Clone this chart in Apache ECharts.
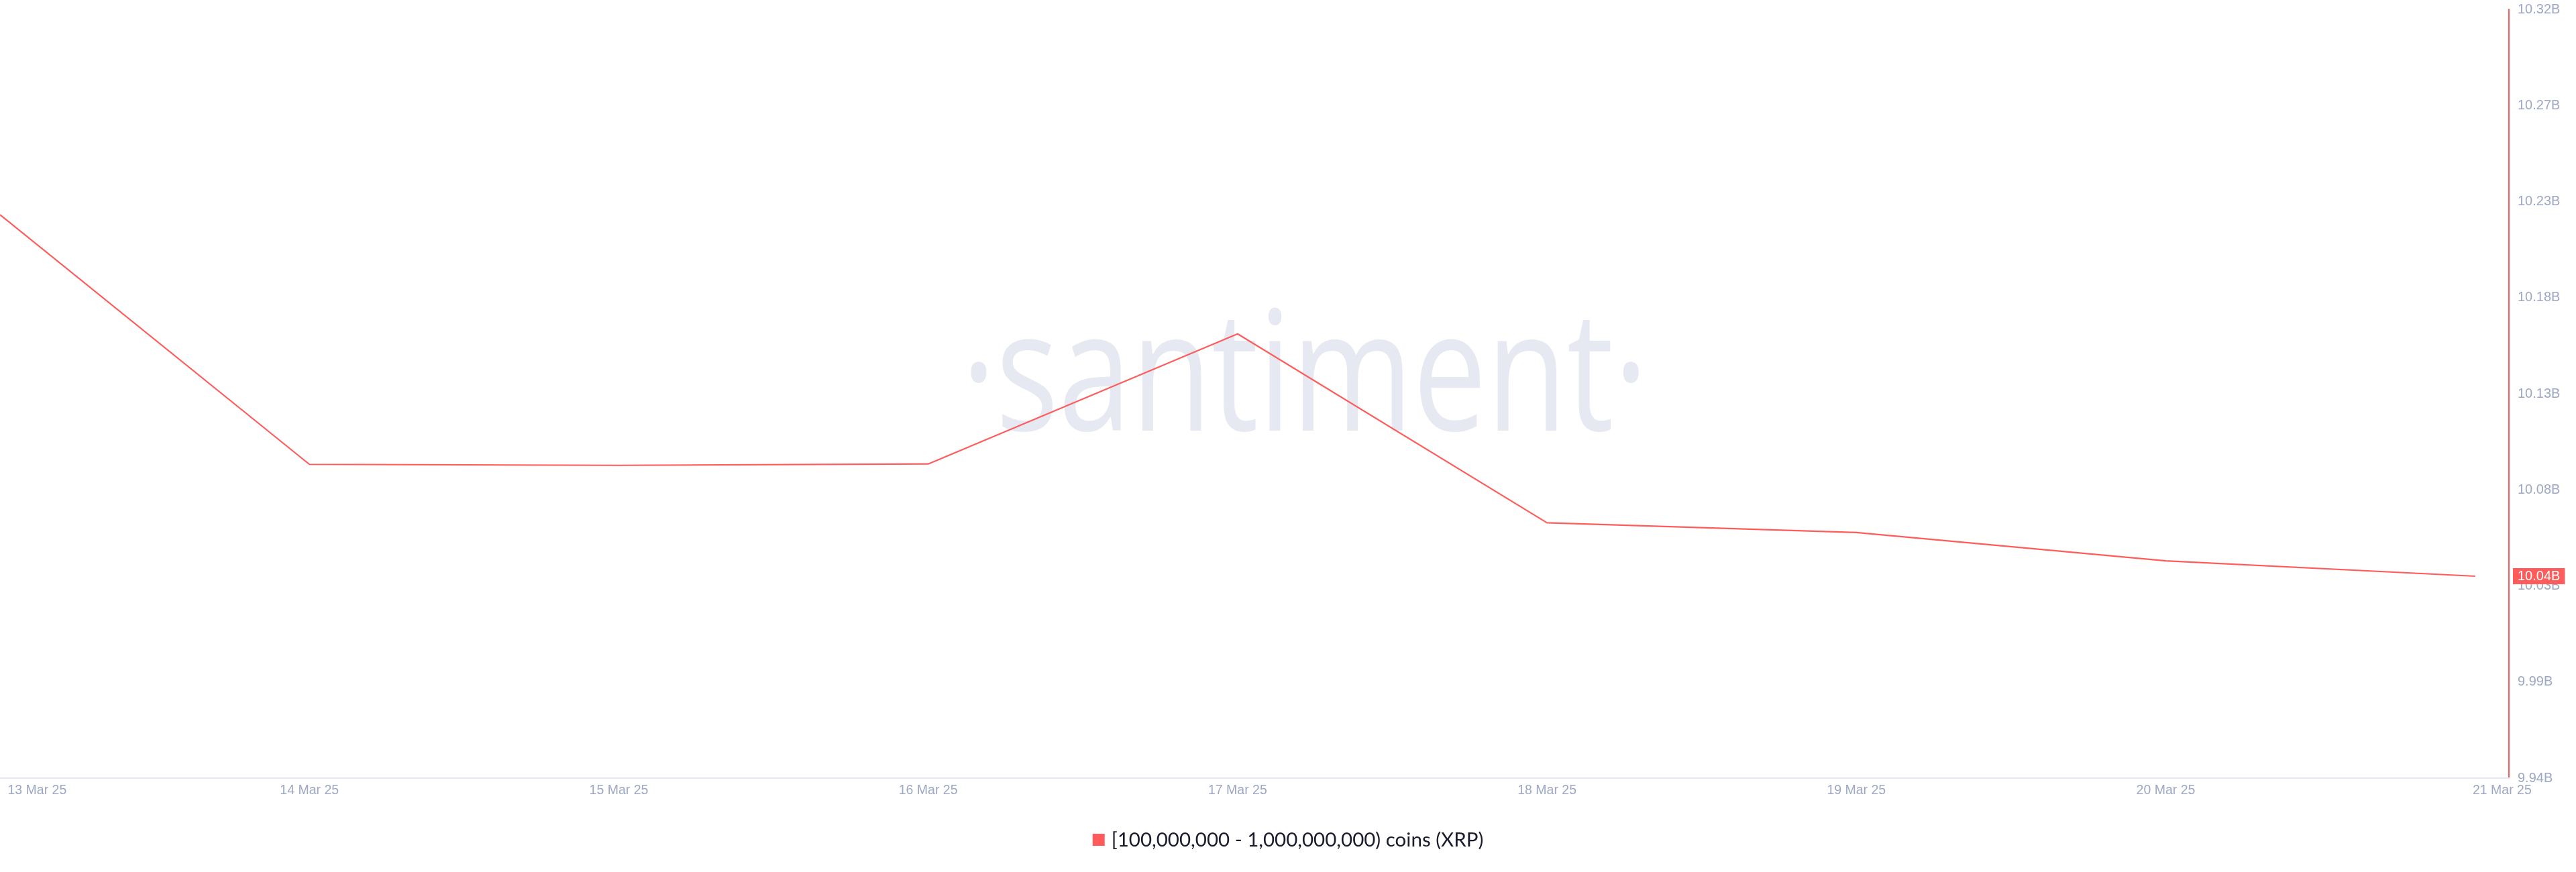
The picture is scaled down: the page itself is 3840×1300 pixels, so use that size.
<!DOCTYPE html>
<html>
<head>
<meta charset="utf-8">
<script src="https://cdn.jsdelivr.net/npm/echarts@6/dist/echarts.min.js"></script>
<style>
html,body{margin:0;padding:0;background:#fff;}
#chart{width:3840px;height:1300px;}
</style>
</head>
<body>
<div id="chart"></div>
<script>
// ---- data ----
const dates = ['13 Mar 25','14 Mar 25','15 Mar 25','16 Mar 25','17 Mar 25','18 Mar 25','19 Mar 25','20 Mar 25','21 Mar 25'];
const holdings = [10.2185, 10.0951, 10.0946, 10.0953, 10.1596, 10.0662, 10.0614, 10.0474, 10.0398]; // billions XRP
const seriesName = '[100,000,000 - 1,000,000,000) coins (XRP)';
const yTickValues = [9.94, 9.9875, 10.035, 10.0825, 10.13, 10.1775, 10.225, 10.2725, 10.32];
const yTickLabels = ['9.94B','9.99B','10.03B','10.08B','10.13B','10.18B','10.23B','10.27B','10.32B'];
const xLabelPositions = [0.12, 1, 2, 3, 4, 5, 6, 7, 8.087];

const RED = '#ff5b5b';
const GREY = '#9ea8c4';

const chart = echarts.init(document.getElementById('chart'));
const lastVal = holdings[holdings.length - 1];

chart.setOption({
  animation: false,
  backgroundColor: '#ffffff',
  grid: { left: 0, right: 100, top: 14, bottom: 140, containLabel: false },
  graphic: [{
    type: 'text',
    silent: true,
    z: -10,
    x: 1945, y: 447,
    scaleX: 0.785,
    style: {
      text: '·santiment·',
      font: '249px "Open Sans"',
      fill: '#e6e9f2',
      textAlign: 'center',
      verticalAlign: 'top'
    }
  }],
  legend: {
    left: 'center',
    top: 1232,
    icon: 'rect',
    itemWidth: 18,
    itemHeight: 18,
    itemGap: 10,
    textStyle: { color: '#1a1c2e', fontSize: 29.5, fontFamily: 'Lato', padding: [0, 0, 0, 5] },
    data: [seriesName]
  },
  xAxis: {
    type: 'value',
    min: 0,
    max: 8.109,
    axisLine: { show: true, onZero: false, lineStyle: { color: '#e6e9f2', width: 2 } },
    axisTick: { show: false },
    splitLine: { show: false },
    axisLabel: {
      customValues: xLabelPositions,
      color: GREY,
      fontSize: 19.5,
      fontFamily: 'Liberation Sans',
      margin: 9,
      formatter: v => dates[Math.round(v)]
    }
  },
  yAxis: {
    type: 'value',
    position: 'right',
    min: 9.94,
    max: 10.32,
    axisLine: { show: true, onZero: false, lineStyle: { color: RED, width: 2 } },
    axisTick: { show: false },
    splitLine: { show: false },
    axisLabel: {
      customValues: yTickValues,
      color: GREY,
      fontSize: 20,
      fontFamily: 'Liberation Sans',
      margin: 13,
      formatter: v => {
        const i = yTickValues.findIndex(t => Math.abs(t - v) < 1e-6);
        return i >= 0 ? yTickLabels[i] : '';
      }
    },
    axisPointer: {
      show: true,
      status: 'show',
      value: lastVal,
      triggerTooltip: false,
      lineStyle: { opacity: 0 },
      label: {
        show: true,
        margin: 6,
        backgroundColor: RED,
        color: '#ffffff',
        fontSize: 20,
        fontFamily: 'Liberation Sans',
        padding: [2, 7, 2, 7],
        borderRadius: 0,
        shadowBlur: 0,
        formatter: p => p.value.toFixed(2) + 'B'
      }
    }
  },
  series: [{
    name: seriesName,
    type: 'line',
    data: holdings.map((v, i) => [i, v]),
    showSymbol: false,
    symbol: 'none',
    itemStyle: { color: RED },
    lineStyle: { color: RED, width: 2.2 },
    z: 5
  }]
});
</script>
</body>
</html>
